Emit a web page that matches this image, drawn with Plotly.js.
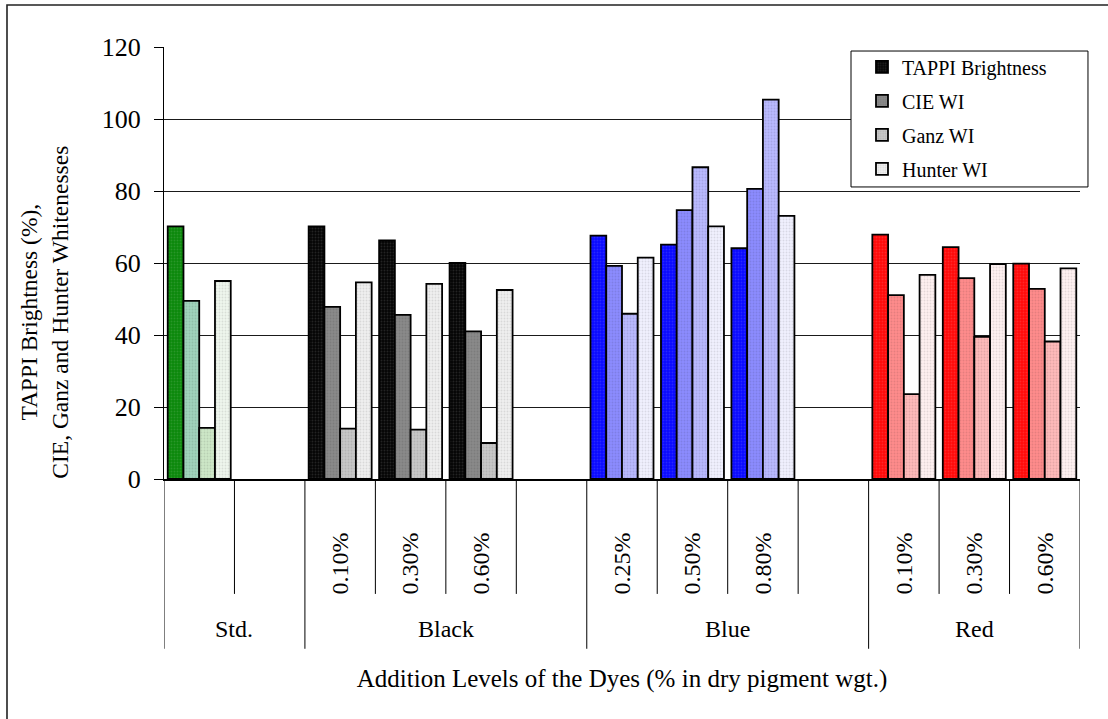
<!DOCTYPE html>
<html>
<head>
<meta charset="utf-8">
<script src="https://cdn.plot.ly/plotly-3.0.1.min.js"></script>
<style>
  html, body { margin: 0; padding: 0; background: #ffffff; }
  #chart { width: 1108px; height: 719px; }
</style>
</head>
<body>
<div id="chart"></div>
<script>
// Dye groups and their addition levels (the standard has a single unlabeled slot)
const dyes = ["Std.", "Black", "Blue", "Red"];
const dyeLevels = [
  [""],
  ["0.10%", "0.30%", "0.60%"],
  ["0.25%", "0.50%", "0.80%"],
  ["0.10%", "0.30%", "0.60%"]
];

const seriesNames = ["TAPPI Brightness", "CIE WI", "Ganz WI", "Hunter WI"];

// Values in slot order: Std, Black x3, Blue x3, Red x3
const tappiBrightness = [70.2, 70.2, 66.3, 60.0, 67.6, 65.1, 64.1, 67.9, 64.4, 59.8];
const cieWI           = [49.5, 47.8, 45.6, 41.0, 59.2, 74.7, 80.6, 51.1, 55.8, 52.8];
const ganzWI          = [14.2, 14.0, 13.7, 10.0, 45.9, 86.6, 105.4, 23.6, 39.5, 38.2];
const hunterWI        = [55.0, 54.6, 54.2, 52.5, 61.5, 70.2, 73.1, 56.7, 59.7, 58.5];

const yTickVals = [0, 20, 40, 60, 80, 100, 120];

const seriesValues = [tappiBrightness, cieWI, ganzWI, hunterWI];

// Fill shades for each dye, one per measure
const palette = [
  ["#0b880b", "#a0d4bc", "#cee8c8", "#eff7ee"],
  ["#050505", "#8a8a8a", "#c8c8c8", "#f0f0f0"],
  ["#0a0aff", "#8c8cff", "#b9b9ff", "#f1f1ff"],
  ["#ff0a0a", "#ff8c8c", "#ffbaba", "#fff1f1"]
];

const FONT = '"Liberation Serif", "Times New Roman", serif';

// Lay out slots: each dye's levels, then one blank spacer slot between dyes
let slot = 0;
const levelX = [];
const tickX = [];
const tickText = [];
const groupSpans = [];
dyes.forEach((d, i) => {
  const start = slot;
  const xs = [];
  dyeLevels[i].forEach(lv => {
    xs.push(slot);
    if (lv) { tickX.push(slot); tickText.push(lv); }
    slot++;
  });
  if (i < dyes.length - 1) slot++;
  groupSpans.push([start - 0.5, slot - 0.5]);
  levelX.push(xs);
});
const nSlots = slot;

// One trace per measure and dye; offsetgroup keeps the four measures side by side
const traces = [];
seriesNames.forEach((name, s) => {
  let offset = 0;
  dyes.forEach((d, i) => {
    const n = dyeLevels[i].length;
    traces.push({
      type: "bar",
      name: name,
      x: levelX[i],
      y: seriesValues[s].slice(offset, offset + n),
      offsetgroup: String(s),
      legendgroup: name,
      showlegend: i === 1,
      marker: {
        color: palette[i][s],
        line: { color: "#000000", width: 1.8 },
        pattern: {
          shape: ".", size: 3, solidity: 0.3,
          bgcolor: palette[i][s],
          fgcolor: s === 0 ? "#ffffff" : "#000000",
          fgopacity: s === 0 ? 0.12 : 0.1
        }
      },
      customdata: dyeLevels[i],
      hovertemplate: d + " %{customdata}<br>" + name + ": %{y}<extra></extra>"
    });
    offset += n;
  });
});

// Category box lines under the axis: short between levels, long between dyes
const groupEdges = new Set(groupSpans.flatMap(g => g).map(v => v.toFixed(1)));
const shapes = [];
for (let k = 0; k <= nSlots; k++) {
  const xv = k - 0.5;
  const tall = groupEdges.has(xv.toFixed(1));
  shapes.push({
    type: "line", xref: "x", yref: "paper",
    x0: xv, x1: xv, y0: 0, y1: tall ? -0.393 : -0.266,
    line: { color: "#000000", width: 1 }
  });
}
// Legend frame
shapes.push({
  type: "rect", xref: "paper", yref: "paper",
  x0: 0.750, x1: 1.0087, y0: 0.676, y1: 0.9907,
  line: { color: "#000000", width: 1 }, fillcolor: "#ffffff", layer: "above"
});
// Outer chart frame
shapes.push({
  type: "rect", xref: "paper", yref: "paper",
  x0: -0.1714, x1: 1.05, y0: -0.58, y1: 1.0972,
  line: { color: "#222222", width: 1.6 }, fillcolor: "rgba(0,0,0,0)", layer: "above"
});

// Dye names centred under their slot groups
const annotations = dyes.map((d, i) => ({
  text: d, xref: "x", yref: "paper",
  x: (groupSpans[i][0] + Math.min(groupSpans[i][1], nSlots - 0.5)) / 2,
  y: -0.347, xanchor: "center", yanchor: "middle",
  showarrow: false, font: { family: FONT, size: 24, color: "#000000" }
}));

// Value-axis title, two lines
annotations.push({
  text: "TAPPI Brightness (%),<br>CIE, Ganz and Hunter Whitenesses",
  xref: "paper", yref: "paper", x: -0.1305, y: 0.386,
  xanchor: "center", yanchor: "middle", textangle: -90,
  showarrow: false, font: { family: FONT, size: 23.5, color: "#000000" }
});

const layout = {
  width: 1108, height: 719,
  margin: { l: 164, r: 28, t: 47, b: 240 },
  paper_bgcolor: "#ffffff", plot_bgcolor: "#ffffff",
  font: { family: FONT, color: "#000000" },
  barmode: "group", bargap: 0.106, bargroupgap: 0,
  showlegend: true,
  legend: {
    x: 0.762, y: 0.999, xanchor: "left", yanchor: "top",
    bgcolor: "rgba(0,0,0,0)", borderwidth: 0,
    traceorder: "grouped", tracegroupgap: 5,
    font: { family: FONT, size: 20, color: "#000000" }
  },
  xaxis: {
    range: [-0.5, nSlots - 0.5],
    tickmode: "array", tickvals: tickX, ticktext: tickText,
    tickangle: -90, ticks: "", ticklabelstandoff: 42,
    tickfont: { family: FONT, size: 24, color: "#000000" },
    showline: true, linecolor: "#000000", linewidth: 2,
    showgrid: false, zeroline: false, fixedrange: true,
    title: { text: "Addition Levels of the Dyes (% in dry pigment wgt.)", standoff: 76,
             font: { family: FONT, size: 25, color: "#000000" } }
  },
  yaxis: {
    range: [0, 120],
    tickmode: "array", tickvals: yTickVals,
    ticks: "outside", ticklen: 9, tickcolor: "#000000", tickwidth: 1,
    ticklabelstandoff: 8,
    tickfont: { family: FONT, size: 26, color: "#000000" },
    showline: true, linecolor: "#000000", linewidth: 1,
    showgrid: true, gridcolor: "#1a1a1a", gridwidth: 1,
    zeroline: false, fixedrange: true
  },
  shapes: shapes,
  annotations: annotations
};

Plotly.newPlot("chart", traces, layout, { displayModeBar: false, responsive: false });
</script>
</body>
</html>
